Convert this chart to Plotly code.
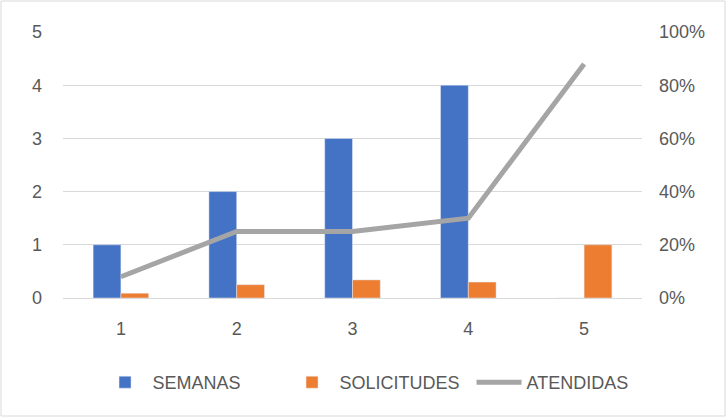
import plotly.graph_objects as go

categories = ["1", "2", "3", "4", "5"]
semanas = [1, 2, 3, 4, 0]
solicitudes = [0.09, 0.25, 0.34, 0.3, 1.0]
atendidas = [0.08, 0.25, 0.25, 0.30, 0.88]

left_ticks = [0, 1, 2, 3, 4, 5]
right_ticks = [0, 0.2, 0.4, 0.6, 0.8, 1.0]
right_labels = ["0%", "20%", "40%", "60%", "80%", "100%"]

W, H = 727, 418
ml, mr, mt, mb = 63, 85, 32, 120
pw, ph = W - ml - mr, H - mt - mb

font = dict(family="Liberation Sans, Arial", size=18, color="#595959")

fig = go.Figure()
fig.add_trace(go.Bar(x=categories, y=semanas, name="SEMANAS", marker_color="#4472C4"))
fig.add_trace(go.Bar(x=categories, y=solicitudes, name="SOLICITUDES", marker_color="#ED7D31"))
fig.add_trace(go.Scatter(x=categories, y=atendidas, name="ATENDIDAS", yaxis="y2",
                         mode="lines", line=dict(color="#A5A5A5", width=5)))

fig.update_layout(
    width=W, height=H,
    margin=dict(l=ml, r=mr, t=mt, b=mb, autoexpand=False),
    paper_bgcolor="white", plot_bgcolor="white",
    font=font,
    barmode="group", bargap=0.52, bargroupgap=0,
    xaxis=dict(type="category", showgrid=False, showline=True, linecolor="#d9d9d9",
               linewidth=1, ticks="", tickfont=font, ticklabelstandoff=14),
    yaxis=dict(range=[0, 5], tickvals=left_ticks, showgrid=True, gridcolor="#d9d9d9",
               zeroline=False, tickfont=font, ticklabelstandoff=20),
    yaxis2=dict(range=[0, 1], tickvals=right_ticks, ticktext=right_labels, overlaying="y",
                side="right", showgrid=False, zeroline=False, tickfont=font,
                ticklabelstandoff=16),
    legend=dict(orientation="h", xref="container", yref="container",
                x=0.52, xanchor="center", y=0.085, yanchor="middle",
                font=font, traceorder="normal", itemwidth=45, entrywidth=127),
    showlegend=True,
    shapes=[dict(type="rect", xref="paper", yref="paper",
                 x0=(1 - ml) / pw, x1=(W - 2 - ml) / pw,
                 y0=-(H - 2 - mt - ph) / ph, y1=(mt - 1) / ph + 1,
                 line=dict(color="#d9d9d9", width=1), layer="below")],
)

fig.write_html("out.html")
